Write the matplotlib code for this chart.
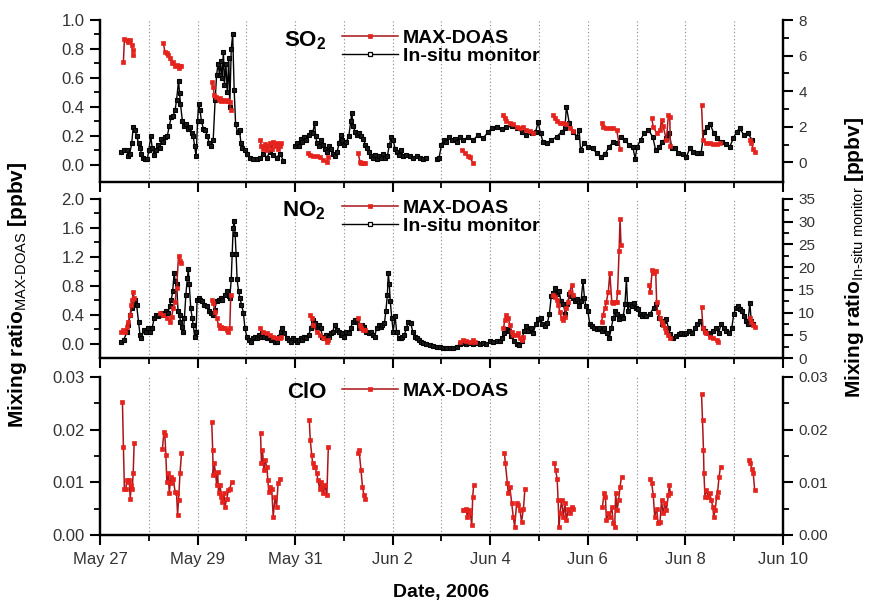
import numpy as np
import matplotlib
matplotlib.use('Agg')
import matplotlib.pyplot as plt
from matplotlib.ticker import FixedLocator, FormatStrFormatter
from matplotlib.lines import Line2D

plt.rcParams['font.family'] = ['Liberation Sans', 'DejaVu Sans']
plt.rcParams['mathtext.fontset'] = 'custom'
plt.rcParams['mathtext.rm'] = 'Liberation Sans'
plt.rcParams['mathtext.bf'] = 'Liberation Sans:bold'
plt.rcParams['mathtext.it'] = 'Liberation Sans:italic'

nan = np.nan

# ---------------- data (time in days since May 27 00:00) ----------------
xtick_days = [0, 2, 4, 6, 8, 10, 12, 14]
xtick_labels = ["May 27", "May 29", "May 31", "Jun 2", "Jun 4", "Jun 6", "Jun 8", "Jun 10"]

so2_insitu = [
    (0.44, 0.58), (0.49, 0.67), (0.55, 0.67), (0.58, 0.34), (0.61, 0.50), (0.65, 1.07), (0.68, 1.97),
    (0.72, 1.80), (0.75, 1.50), (0.79, 1.07), (0.82, 0.83), (0.85, 0.50), (0.89, 0.26), (0.92, 0.18),
    (0.97, 0.18), (1.00, 0.67), (1.04, 1.48), (1.07, 0.83), (1.11, 0.42), (1.15, 0.67), (1.19, 0.99),
    (1.23, 0.83), (1.26, 1.32), (1.30, 1.15), (1.34, 1.40), (1.38, 1.48), (1.42, 2.05), (1.46, 2.54),
    (1.50, 2.62), (1.54, 2.95), (1.57, 3.52), (1.61, 4.58), (1.63, 3.90), (1.65, 3.27), (1.69, 2.30),
    (1.72, 2.05), (1.76, 2.13), (1.80, 1.89), (1.84, 1.97), (1.89, 1.64), (1.91, 1.48), (1.94, 0.91),
    (1.97, 0.34), (2.00, 2.30), (2.02, 3.27), (2.05, 2.95), (2.08, 2.30), (2.12, 1.89), (2.16, 1.80),
    (2.20, 1.48), (2.24, 1.07), (2.28, 0.91), (2.32, 1.24), (2.36, 3.52), (2.39, 4.90), (2.42, 5.55),
    (2.45, 4.90), (2.47, 5.70), (2.50, 4.74), (2.53, 6.20), (2.55, 4.33), (2.58, 5.55), (2.61, 3.93),
    (2.64, 5.88), (2.66, 3.11), (2.69, 6.37), (2.72, 7.20), (2.75, 4.09), (2.78, 2.13), (2.82, 1.72),
    (2.86, 1.80), (2.89, 1.07), (2.92, 0.83), (2.97, 0.67), (3.02, 0.50), (3.07, 0.26), (3.14, 0.18),
    (3.21, 0.18), (3.28, 0.26), (3.35, 0.50), (3.42, 0.26), (3.48, 0.58), (3.55, 0.42), (3.62, 0.26),
    (3.69, 0.50), (3.76, 0.10), (3.88, nan),
    (4.00, 0.91), (4.03, 1.07), (4.07, 0.91), (4.11, 1.32), (4.15, 1.15), (4.19, 1.40), (4.23, 1.24),
    (4.28, 1.56), (4.32, 1.72), (4.36, 1.64), (4.40, 2.21), (4.42, 1.48), (4.45, 1.07), (4.49, 0.91),
    (4.54, 1.24), (4.58, 0.99), (4.62, 0.75), (4.66, 0.58), (4.70, 0.91), (4.74, 0.75), (4.78, 0.50),
    (4.82, 0.34), (4.86, 0.58), (4.90, 1.07), (4.93, 1.56), (4.97, 1.24), (5.01, 0.99), (5.05, 1.15),
    (5.10, 1.48), (5.14, 2.30), (5.16, 2.78), (5.19, 2.05), (5.23, 1.72), (5.27, 1.56), (5.31, 1.64),
    (5.36, 1.48), (5.40, 1.32), (5.44, 0.99), (5.48, 0.83), (5.52, 0.58), (5.56, 0.34), (5.60, 0.26),
    (5.64, 0.42), (5.68, 0.18), (5.72, 0.34), (5.77, 0.26), (5.81, 0.50), (5.85, 0.26), (5.89, 0.34),
    (5.93, 0.99), (5.97, 1.40), (6.01, 1.24), (6.05, 0.75), (6.09, 0.58), (6.13, 0.42), (6.17, 0.67),
    (6.22, 0.34), (6.28, 0.42), (6.35, 0.34), (6.42, 0.26), (6.49, 0.34), (6.56, 0.26), (6.63, 0.18),
    (6.69, 0.26), (6.80, nan), (6.90, 0.18), (6.95, 0.26), (7.00, 0.99), (7.05, 1.24), (7.10, 1.15),
    (7.16, 1.40), (7.21, 1.24), (7.27, 1.32), (7.32, 1.15), (7.38, 1.40),
    (7.45, 1.25), (7.55, 1.44), (7.65, 1.25), (7.75, 1.54), (7.85, 1.35), (7.96, 1.72), (8.03, 1.91),
    (8.13, 2.00), (8.23, 1.85), (8.33, 1.97), (8.44, 2.04), (8.54, 1.91), (8.64, 1.72), (8.74, 1.54),
    (8.85, 1.63), (8.93, 1.72), (8.98, 2.28), (9.03, 1.63), (9.08, 1.16), (9.17, 1.07), (9.25, 1.25),
    (9.36, 1.44), (9.46, 1.72), (9.53, 1.91), (9.56, 3.13), (9.62, 2.19), (9.70, 1.72), (9.77, 1.44),
    (9.82, 1.82), (9.85, 0.69), (9.92, 1.07), (10.01, 0.88), (10.10, 0.79), (10.18, 0.51), (10.26, 0.32),
    (10.35, 0.47), (10.44, 0.88), (10.52, 1.16), (10.60, 1.07), (10.67, 1.44), (10.76, 1.25), (10.85, 0.97),
    (10.92, 0.88), (10.97, 0.22), (11.01, 0.88), (11.08, 1.25), (11.15, 1.63), (11.24, 1.82), (11.33, 1.44),
    (11.39, 0.69), (11.46, 0.88), (11.53, 1.16), (11.60, 1.35), (11.67, 1.67), (11.72, 0.79), (11.79, 0.79),
    (11.85, 0.51), (11.94, 0.47), (12.02, 0.32), (12.09, 0.79), (12.16, 0.60), (12.24, 0.54), (12.32, 0.51),
    (12.38, 1.72), (12.45, 2.00), (12.51, 2.15), (12.58, 1.63), (12.65, 1.35), (12.74, 1.16), (12.83, 1.03),
    (12.91, 0.88), (12.98, 1.35), (13.05, 1.72), (13.11, 1.91), (13.20, 1.54), (13.28, 1.63), (13.37, 1.25),
]

so2_doas = [
    [(0.48, 0.71), (0.50, 0.87), (0.55, 0.86), (0.58, 0.85), (0.62, 0.86), (0.65, 0.83), (0.67, 0.79), (0.68, 0.76)],
    [(1.30, 0.84), (1.33, 0.78), (1.37, 0.77), (1.40, 0.76), (1.43, 0.74), (1.47, 0.70), (1.50, 0.71), (1.54, 0.68),
     (1.57, 0.69), (1.61, 0.67), (1.64, 0.68), (1.67, 0.68)],
    [(2.29, 0.57), (2.32, 0.54), (2.34, 0.48), (2.38, 0.47), (2.43, 0.45), (2.46, 0.46), (2.49, 0.44), (2.53, 0.45),
     (2.56, 0.44), (2.60, 0.45), (2.63, 0.44), (2.66, 0.43), (2.68, 0.38)],
    [(3.28, 0.17), (3.31, 0.13), (3.35, 0.11), (3.38, 0.14), (3.42, 0.10), (3.45, 0.13), (3.48, 0.15), (3.52, 0.11),
     (3.55, 0.16), (3.59, 0.13), (3.62, 0.15), (3.65, 0.11), (3.69, 0.13), (3.72, 0.15)],
    [(4.27, 0.08), (4.30, 0.07), (4.37, 0.06), (4.44, 0.06), (4.51, 0.05), (4.58, 0.03), (4.65, 0.02), (4.68, 0.05)],
    [(5.29, 0.08), (5.33, 0.02), (5.36, 0.01), (5.40, 0.01), (5.43, 0.01)],
    [(7.41, 0.10), (7.48, 0.08), (7.55, 0.06), (7.58, 0.05), (7.65, 0.01)],
    [(8.27, 0.34), (8.30, 0.32), (8.33, 0.30), (8.40, 0.29), (8.47, 0.28), (8.54, 0.26), (8.61, 0.25), (8.68, 0.26),
     (8.74, 0.24), (8.81, 0.23), (8.88, 0.22)],
    [(9.29, 0.34), (9.32, 0.32), (9.36, 0.30), (9.43, 0.29), (9.50, 0.29), (9.56, 0.28), (9.63, 0.25), (9.70, 0.23)],
    [(10.28, 0.29), (10.31, 0.26), (10.38, 0.25), (10.45, 0.25), (10.52, 0.25), (10.59, 0.24), (10.66, 0.11)],
    [(11.31, 0.32), (11.34, 0.26), (11.41, 0.22), (11.48, 0.24), (11.51, 0.31), (11.54, 0.27), (11.61, 0.17),
     (11.65, 0.34), (11.68, 0.33), (11.69, 0.13)],
    [(12.33, 0.41), (12.36, 0.17), (12.43, 0.15), (12.50, 0.15), (12.57, 0.14), (12.64, 0.14), (12.71, 0.15)],
    [(13.32, 0.17), (13.35, 0.15), (13.39, 0.11), (13.42, 0.09)],
]

no2_insitu = [
    (0.44, 3.6), (0.49, 4.0), (0.55, 5.8), (0.58, 7.3), (0.62, 9.5), (0.65, 11.0), (0.68, 12.1), (0.72, 12.8),
    (0.75, 11.7), (0.79, 8.0), (0.82, 5.1), (0.85, 4.4), (0.90, 6.2), (0.94, 5.8), (0.98, 6.6), (1.03, 5.8),
    (1.07, 6.6), (1.11, 8.8), (1.15, 9.5), (1.19, 9.2), (1.23, 9.5), (1.27, 9.9), (1.31, 9.5), (1.35, 10.3),
    (1.39, 9.9), (1.43, 11.4), (1.46, 12.8), (1.49, 14.7), (1.52, 18.7), (1.54, 16.9), (1.57, 16.2), (1.60, 10.3),
    (1.63, 9.5), (1.65, 8.0), (1.68, 6.9), (1.71, 5.8), (1.73, 8.8), (1.76, 13.9), (1.79, 17.6), (1.81, 19.5),
    (1.83, 16.2), (1.86, 11.0), (1.89, 8.8), (1.91, 7.3), (1.94, 4.7), (1.97, 5.8), (1.99, 12.8), (2.02, 13.2),
    (2.06, 12.8), (2.10, 12.5), (2.14, 11.7), (2.19, 11.4), (2.23, 10.3), (2.27, 9.9), (2.31, 9.5), (2.35, 10.6),
    (2.39, 12.5), (2.43, 12.8), (2.47, 13.2), (2.51, 12.8), (2.56, 13.9), (2.60, 14.7), (2.64, 13.6), (2.66, 13.2),
    (2.69, 17.3), (2.71, 22.8), (2.73, 28.7), (2.75, 30.2), (2.77, 27.2), (2.79, 22.8), (2.81, 17.3), (2.84, 14.7),
    (2.87, 13.2), (2.90, 11.7), (2.94, 9.9), (2.97, 6.6), (3.01, 4.7), (3.05, 4.0), (3.09, 3.6), (3.13, 4.4),
    (3.17, 4.7), (3.21, 4.4), (3.25, 5.1), (3.29, 4.7), (3.33, 5.5), (3.37, 4.7), (3.42, 4.4), (3.46, 4.7),
    (3.50, 4.0), (3.54, 4.4), (3.58, 3.6), (3.62, 3.6), (3.66, 4.7), (3.70, 5.8), (3.74, 6.6), (3.78, 5.5),
    (3.83, 4.4), (3.87, 4.0), (3.91, 3.6), (3.95, 4.4), (3.99, 4.0), (4.03, 3.6), (4.07, 4.0), (4.11, 4.4),
    (4.15, 4.0), (4.19, 4.7), (4.23, 4.4), (4.28, 5.1), (4.32, 6.6), (4.36, 8.4), (4.40, 7.7), (4.44, 6.9),
    (4.48, 7.3), (4.52, 6.6), (4.56, 4.7), (4.60, 4.4), (4.64, 5.1), (4.69, 4.7), (4.73, 5.5), (4.77, 5.8),
    (4.81, 7.3), (4.85, 6.2), (4.89, 5.8), (4.93, 5.1), (4.97, 5.5), (5.01, 4.7), (5.05, 5.8), (5.10, 5.5),
    (5.14, 6.6), (5.18, 8.0), (5.22, 8.4), (5.26, 8.0), (5.30, 6.6), (5.34, 6.6), (5.38, 7.3), (5.42, 6.9),
    (5.46, 5.8), (5.51, 5.5), (5.55, 5.8), (5.59, 5.1), (5.63, 4.7), (5.67, 6.6), (5.71, 7.3), (5.75, 6.9),
    (5.79, 7.3), (5.83, 7.7), (5.86, 10.3), (5.89, 13.9), (5.91, 18.7), (5.93, 16.2), (5.95, 12.5), (5.98, 8.8),
    (6.01, 5.8), (6.05, 9.2), (6.08, 5.8), (6.12, 4.4), (6.16, 4.4), (6.20, 4.7), (6.24, 5.1), (6.28, 6.6),
    (6.32, 8.0), (6.37, 7.7), (6.41, 5.8), (6.45, 4.7), (6.49, 4.4), (6.53, 4.0), (6.57, 3.6), (6.63, 3.2),
    (6.69, 3.0), (6.76, 2.9), (6.83, 2.7), (6.90, 2.5), (6.97, 2.4), (7.04, 2.3), (7.10, 2.1), (7.17, 2.3),
    (7.24, 2.1), (7.31, 2.5), (7.38, 3.0), (7.45, 3.2), (7.51, 3.1), (7.58, 3.2), (7.65, 3.0), (7.72, 3.2),
    (7.79, 3.1), (7.86, 3.3), (7.92, 3.1), (7.99, 3.7), (8.06, 3.5), (8.13, 3.7), (8.20, 3.8), (8.25, 4.4),
    (8.29, 5.5), (8.34, 6.3), (8.38, 5.9), (8.43, 4.8), (8.48, 3.7), (8.54, 3.1), (8.59, 2.9), (8.64, 3.7),
    (8.69, 5.9), (8.73, 7.0), (8.78, 5.9), (8.83, 6.6), (8.88, 5.5), (8.93, 7.4), (8.98, 8.5), (9.03, 8.8),
    (9.07, 7.4), (9.12, 7.0), (9.17, 7.7), (9.21, 9.6), (9.25, 13.6), (9.29, 14.4), (9.33, 15.5), (9.37, 14.0),
    (9.41, 14.7), (9.45, 12.5), (9.50, 11.8), (9.54, 9.6), (9.58, 11.8), (9.62, 14.0), (9.66, 13.6), (9.70, 13.3),
    (9.74, 12.5), (9.78, 12.9), (9.82, 11.4), (9.86, 12.5), (9.90, 16.9), (9.93, 13.3), (9.96, 11.4), (10.00, 10.3),
    (10.04, 7.4), (10.08, 7.0), (10.12, 6.6), (10.18, 6.3), (10.23, 6.6), (10.29, 5.9), (10.34, 6.6), (10.40, 5.5),
    (10.44, 4.4), (10.48, 6.6), (10.52, 8.8), (10.56, 10.3), (10.60, 9.6), (10.64, 8.5), (10.69, 9.2), (10.72, 8.8),
    (10.76, 11.8), (10.79, 17.3), (10.82, 10.3), (10.86, 11.8), (10.90, 11.4), (10.94, 12.2), (10.98, 11.1),
    (11.03, 10.7), (11.07, 9.6), (11.11, 9.2), (11.15, 9.6), (11.19, 9.2), (11.27, 9.6), (11.35, 11.1),
    (11.40, 11.8), (11.46, 8.8), (11.51, 7.4), (11.57, 8.1), (11.61, 8.5), (11.65, 6.6), (11.69, 5.2),
    (11.75, 4.4), (11.80, 4.8), (11.86, 5.2), (11.91, 5.5), (11.97, 5.2), (12.02, 5.5), (12.08, 5.9),
    (12.13, 5.5), (12.19, 6.6), (12.24, 7.4), (12.30, 8.1), (12.35, 6.6), (12.40, 5.9), (12.46, 5.5),
    (12.51, 5.2), (12.57, 5.9), (12.62, 6.6), (12.68, 5.5), (12.73, 7.4), (12.79, 6.6), (12.84, 5.9),
    (12.90, 5.5), (12.95, 6.6), (12.99, 9.6), (13.03, 11.1), (13.07, 11.4), (13.11, 10.7), (13.15, 10.3),
    (13.20, 9.2), (13.24, 8.1), (13.28, 7.4), (13.32, 12.2), (13.35, 8.1), (13.38, 7.4),
]

no2_doas = [
    [(0.44, 0.16), (0.48, 0.19), (0.51, 0.16), (0.55, 0.23), (0.58, 0.30), (0.62, 0.40), (0.64, 0.53), (0.66, 0.60),
     (0.68, 0.72), (0.70, 0.63)],
    [(1.23, 0.42), (1.30, 0.40), (1.37, 0.35), (1.43, 0.30), (1.47, 0.37), (1.50, 0.49), (1.54, 0.58), (1.57, 0.77),
     (1.61, 1.21), (1.64, 1.14), (1.66, 1.12)],
    [(2.29, 0.60), (2.32, 0.56), (2.36, 0.44), (2.39, 0.35), (2.43, 0.26), (2.46, 0.21), (2.49, 0.23), (2.53, 0.21),
     (2.56, 0.21), (2.60, 0.19), (2.63, 0.16), (2.66, 0.21), (2.68, 0.67)],
    [(3.28, 0.21), (3.35, 0.16), (3.42, 0.14), (3.48, 0.12), (3.55, 0.09), (3.62, 0.07), (3.69, 0.07), (3.72, 0.09)],
    [(4.30, 0.40), (4.34, 0.35), (4.37, 0.26), (4.44, 0.16), (4.51, 0.12), (4.58, 0.07), (4.65, 0.02), (4.68, 0.05)],
    [(5.29, 0.35), (5.33, 0.26), (5.36, 0.21), (5.40, 0.19), (5.43, 0.19)],
    [(7.38, 0.02), (7.45, 0.05), (7.51, 0.03), (7.58, 0.02), (7.65, 0.05), (7.68, 0.02)],
    [(8.27, 0.21), (8.30, 0.33), (8.33, 0.40), (8.37, 0.35), (8.40, 0.26), (8.44, 0.16), (8.47, 0.12), (8.54, 0.12),
     (8.57, 0.14), (8.61, 0.07), (8.64, 0.05), (8.68, 0.09)],
    [(9.29, 0.67), (9.32, 0.65), (9.36, 0.60), (9.39, 0.53), (9.43, 0.44), (9.46, 0.35), (9.50, 0.33), (9.53, 0.37),
     (9.56, 0.49), (9.60, 0.58), (9.63, 0.72), (9.67, 0.81), (9.70, 0.67)],
    [(10.28, 0.30), (10.31, 0.40), (10.35, 0.49), (10.38, 0.58), (10.42, 0.72), (10.45, 0.98), (10.49, 0.58),
     (10.52, 0.56), (10.55, 0.58), (10.59, 0.58), (10.61, 0.72), (10.64, 1.28), (10.66, 1.72), (10.68, 1.36)],
    [(11.25, 0.81), (11.28, 0.72), (11.32, 1.02), (11.35, 0.98), (11.39, 1.00), (11.41, 0.58), (11.43, 0.44),
     (11.48, 0.35), (11.51, 0.30), (11.54, 0.26), (11.58, 0.21), (11.61, 0.16), (11.65, 0.12), (11.68, 0.07)],
    [(12.33, 0.51), (12.36, 0.21), (12.40, 0.16), (12.43, 0.14), (12.50, 0.09), (12.57, 0.07), (12.64, 0.05),
     (12.67, 0.02)],
    [(13.32, 0.35), (13.35, 0.30), (13.39, 0.26), (13.42, 0.23)],
]

clo_doas = [
    [(0.46, 0.0253), (0.48, 0.0167), (0.50, 0.0088), (0.53, 0.0088), (0.55, 0.0104), (0.58, 0.0101), (0.60, 0.0104),
     (0.62, 0.0069), (0.64, 0.0095), (0.66, 0.0088), (0.68, 0.0117), (0.70, 0.0174)],
    [(1.28, 0.0164), (1.31, 0.0196), (1.33, 0.0189), (1.35, 0.0152), (1.37, 0.0101), (1.40, 0.0117), (1.42, 0.0079),
     (1.45, 0.0111), (1.48, 0.0098), (1.50, 0.0107), (1.54, 0.0082), (1.57, 0.0079), (1.59, 0.0038), (1.61, 0.0066),
     (1.64, 0.0117), (1.67, 0.0155)],
    [(2.29, 0.0215), (2.31, 0.0161), (2.32, 0.0114), (2.34, 0.0136), (2.37, 0.0117), (2.39, 0.0095), (2.41, 0.0120),
     (2.43, 0.0079), (2.46, 0.0095), (2.49, 0.0073), (2.51, 0.0063), (2.54, 0.0079), (2.56, 0.0054), (2.60, 0.0069),
     (2.63, 0.0085), (2.66, 0.0088), (2.70, 0.0101)],
    [(3.29, 0.0193), (3.31, 0.0136), (3.33, 0.0161), (3.36, 0.0123), (3.38, 0.0142), (3.42, 0.0130), (3.44, 0.0104),
     (3.46, 0.0082), (3.48, 0.0092), (3.52, 0.0088), (3.55, 0.0035), (3.59, 0.0073), (3.62, 0.0054), (3.65, 0.0098),
     (3.69, 0.0107)],
    [(4.29, 0.0218), (4.31, 0.0180), (4.34, 0.0152), (4.36, 0.0136), (4.39, 0.0130), (4.41, 0.0130), (4.44, 0.0117),
     (4.47, 0.0104), (4.50, 0.0088), (4.52, 0.0101), (4.55, 0.0092), (4.58, 0.0079), (4.61, 0.0095), (4.65, 0.0076),
     (4.68, 0.0167)],
    [(5.29, 0.0155), (5.31, 0.0161), (5.35, 0.0123), (5.38, 0.0092), (5.41, 0.0076), (5.43, 0.0069)],
    [(7.44, 0.0047), (7.47, 0.0047), (7.50, 0.0050), (7.53, 0.0035), (7.56, 0.0047), (7.59, 0.0041), (7.62, 0.0019),
     (7.64, 0.0073), (7.66, 0.0095)],
    [(8.29, 0.0155), (8.31, 0.0136), (8.35, 0.0098), (8.37, 0.0079), (8.40, 0.0092), (8.44, 0.0060), (8.47, 0.0035),
     (8.50, 0.0016), (8.54, 0.0060), (8.57, 0.0057), (8.61, 0.0047), (8.64, 0.0025), (8.68, 0.0050), (8.71, 0.0088)],
    [(9.31, 0.0137), (9.34, 0.0123), (9.37, 0.0107), (9.39, 0.0066), (9.41, 0.0016), (9.43, 0.0041), (9.46, 0.0066),
     (9.50, 0.0035), (9.53, 0.0060), (9.56, 0.0028), (9.60, 0.0050), (9.63, 0.0041), (9.67, 0.0054), (9.70, 0.0050)],
    [(10.30, 0.0054), (10.33, 0.0079), (10.36, 0.0073), (10.38, 0.0028), (10.42, 0.0041), (10.45, 0.0035),
     (10.49, 0.0054), (10.52, 0.0022), (10.55, 0.0016), (10.57, 0.0079), (10.60, 0.0047), (10.63, 0.0066),
     (10.66, 0.0092), (10.69, 0.0111)],
    [(11.28, 0.0107), (11.31, 0.0098), (11.34, 0.0076), (11.37, 0.0035), (11.41, 0.0050), (11.44, 0.0022),
     (11.48, 0.0025), (11.51, 0.0066), (11.54, 0.0041), (11.58, 0.0060), (11.61, 0.0047), (11.65, 0.0076),
     (11.67, 0.0095), (11.69, 0.0079)],
    [(12.33, 0.0268), (12.35, 0.0218), (12.37, 0.0161), (12.38, 0.0117), (12.40, 0.0073), (12.43, 0.0085),
     (12.47, 0.0073), (12.50, 0.0079), (12.53, 0.0066), (12.56, 0.0054), (12.58, 0.0035), (12.61, 0.0047),
     (12.64, 0.0073), (12.66, 0.0082), (12.69, 0.0111), (12.72, 0.0130)],
    [(13.31, 0.0142), (13.33, 0.0136), (13.36, 0.0126), (13.39, 0.0117), (13.42, 0.0085)],
]

# ---------------- styles ----------------
RED_LINE = '#a8151a'
RED_MARK = '#e5221c'
doas_kw = dict(color=RED_LINE, lw=1.1, marker='s', ms=3.4, mfc=RED_MARK, mec=RED_MARK, mew=0.5)
insitu_kw = dict(color='black', lw=1.0, marker='s', ms=2.8, mfc='#1a1a1a', mec='black', mew=0.8)
TICKC = '#333333'

W, H = 870, 601
fig = plt.figure(figsize=(W / 100, H / 100), dpi=100)


def rect(l, t, r, b):
    return [l / W, 1 - b / H, (r - l) / W, (b - t) / H]


ax1 = fig.add_axes(rect(100, 20, 783, 182))
ax2 = fig.add_axes(rect(100, 199, 783, 358))
ax3 = fig.add_axes(rect(100, 377, 783, 535))
tw1, tw2, tw3 = ax1.twinx(), ax2.twinx(), ax3.twinx()

for ax, tw in [(ax1, tw1), (ax2, tw2), (ax3, tw3)]:
    ax.set_zorder(tw.get_zorder() + 1)
    ax.patch.set_visible(False)
    ax.set_xlim(0, 14)
    for a in (ax, tw):
        a.spines['top'].set_visible(False)
        for s in ('left', 'right', 'bottom'):
            a.spines[s].set_linewidth(1.6)
    ax.xaxis.set_major_locator(FixedLocator(xtick_days))
    ax.xaxis.set_minor_locator(FixedLocator([1, 3, 5, 7, 9, 11, 13]))
    ax.tick_params(axis='x', which='major', direction='out', length=7, width=1.5, labelsize=12,
                   labelcolor=TICKC, pad=5)
    ax.tick_params(axis='x', which='minor', direction='out', length=4, width=1.3)
    ax.tick_params(axis='y', which='major', direction='out', length=7, width=1.5, labelsize=12,
                   labelcolor=TICKC, pad=4)
    ax.tick_params(axis='y', which='minor', direction='out', length=4, width=1.3)
    tw.tick_params(axis='y', which='major', direction='out', length=7, width=1.5, labelsize=11,
                   labelcolor=TICKC, pad=4)
    tw.tick_params(axis='y', which='minor', direction='out', length=4, width=1.3)
    # day separators
    for d in range(1, 14):
        tw.axvline(d, color='#8a8a8a', lw=0.8, ls=(0, (1, 2.2)), zorder=0)

ax1.set_xticklabels([])
ax2.set_xticklabels([])
ax3.set_xticklabels(xtick_labels)

# --- SO2 panel ---
ax1.set_ylim(-0.12, 1.0)
ax1.yaxis.set_major_locator(FixedLocator([0, 0.2, 0.4, 0.6, 0.8, 1.0]))
ax1.yaxis.set_minor_locator(FixedLocator([0.1, 0.3, 0.5, 0.7, 0.9]))
ax1.yaxis.set_major_formatter(FormatStrFormatter('%.1f'))
tw1.set_ylim(-1.1, 8)
tw1.yaxis.set_major_locator(FixedLocator([0, 2, 4, 6, 8]))
tw1.yaxis.set_minor_locator(FixedLocator([1, 3, 5, 7]))

t, v = np.array(so2_insitu).T
tw1.plot(t, v, **insitu_kw)
for seg in so2_doas:
    t, v = np.array(seg).T
    h_doas1, = ax1.plot(t, v, **doas_kw)

# --- NO2 panel ---
ax2.set_ylim(-0.2, 2.0)
ax2.yaxis.set_major_locator(FixedLocator([0, 0.4, 0.8, 1.2, 1.6, 2.0]))
ax2.yaxis.set_minor_locator(FixedLocator([0.2, 0.6, 1.0, 1.4, 1.8]))
ax2.yaxis.set_major_formatter(FormatStrFormatter('%.1f'))
tw2.set_ylim(0, 35)
tw2.yaxis.set_major_locator(FixedLocator([0, 5, 10, 15, 20, 25, 30, 35]))
tw2.yaxis.set_minor_locator(FixedLocator([2.5, 7.5, 12.5, 17.5, 22.5, 27.5, 32.5]))

t, v = np.array(no2_insitu).T
tw2.plot(t, v, **insitu_kw)
for seg in no2_doas:
    t, v = np.array(seg).T
    h_doas2, = ax2.plot(t, v, **doas_kw)

# --- ClO panel ---
for a in (ax3, tw3):
    a.set_ylim(0, 0.03)
    a.yaxis.set_major_locator(FixedLocator([0, 0.01, 0.02, 0.03]))
    a.yaxis.set_minor_locator(FixedLocator([0.005, 0.015, 0.025]))
    a.yaxis.set_major_formatter(FormatStrFormatter('%.2f'))
for seg in clo_doas:
    t, v = np.array(seg).T
    h_doas3, = ax3.plot(t, v, **doas_kw)

# legend proxy for the in-situ series (open square as in the original key)
h_ins_key = Line2D([], [], color='black', lw=1.0, marker='s', ms=3.2, mfc='white', mec='black', mew=0.9)

# --- legends & species labels ---
leg_kw = dict(loc='upper left', bbox_transform=fig.transFigure, frameon=False, borderpad=0,
              borderaxespad=0, handlelength=2.9, handletextpad=0.25, labelspacing=0.05, numpoints=1,
              prop={'weight': 'bold', 'size': 14})
ax1.legend([h_doas1, h_ins_key], ['MAX-DOAS', 'In-situ monitor'], bbox_to_anchor=(342 / W, 1 - 29 / H), **leg_kw)
ax2.legend([h_doas2, h_ins_key], ['MAX-DOAS', 'In-situ monitor'], bbox_to_anchor=(342 / W, 1 - 199 / H), **leg_kw)
ax3.legend([h_doas3], ['MAX-DOAS'], bbox_to_anchor=(342 / W, 1 - 382 / H), **leg_kw)

fig.text(284 / W, 1 - 41 / H, r'$\mathbf{SO}_{\mathbf{2}}$', fontsize=16, va='center', ha='left')
fig.text(282 / W, 1 - 211 / H, r'$\mathbf{NO}_{\mathbf{2}}$', fontsize=16, va='center', ha='left')
fig.text(287 / W, 1 - 393 / H, 'ClO', fontsize=16, fontweight='bold', va='center', ha='left')

# --- axis titles ---
fig.text(18 / W, 1 - 295 / H, r'$\mathbf{Mixing\ ratio}_{\mathrm{MAX\text{-}DOAS}}\ \mathbf{[ppbv]}$',
         rotation=90, fontsize=15, ha='center', va='center')
fig.text(855 / W, 1 - 258 / H, r'$\mathbf{Mixing\ ratio}_{\mathrm{In\text{-}situ\ monitor}}\ \mathbf{[ppbv]}$',
         rotation=90, fontsize=15, ha='center', va='center')
fig.text(441 / W, 1 - 592 / H, 'Date, 2006', fontsize=14, fontweight='bold', ha='center', va='center')

fig.savefig('out.png', dpi=100)
